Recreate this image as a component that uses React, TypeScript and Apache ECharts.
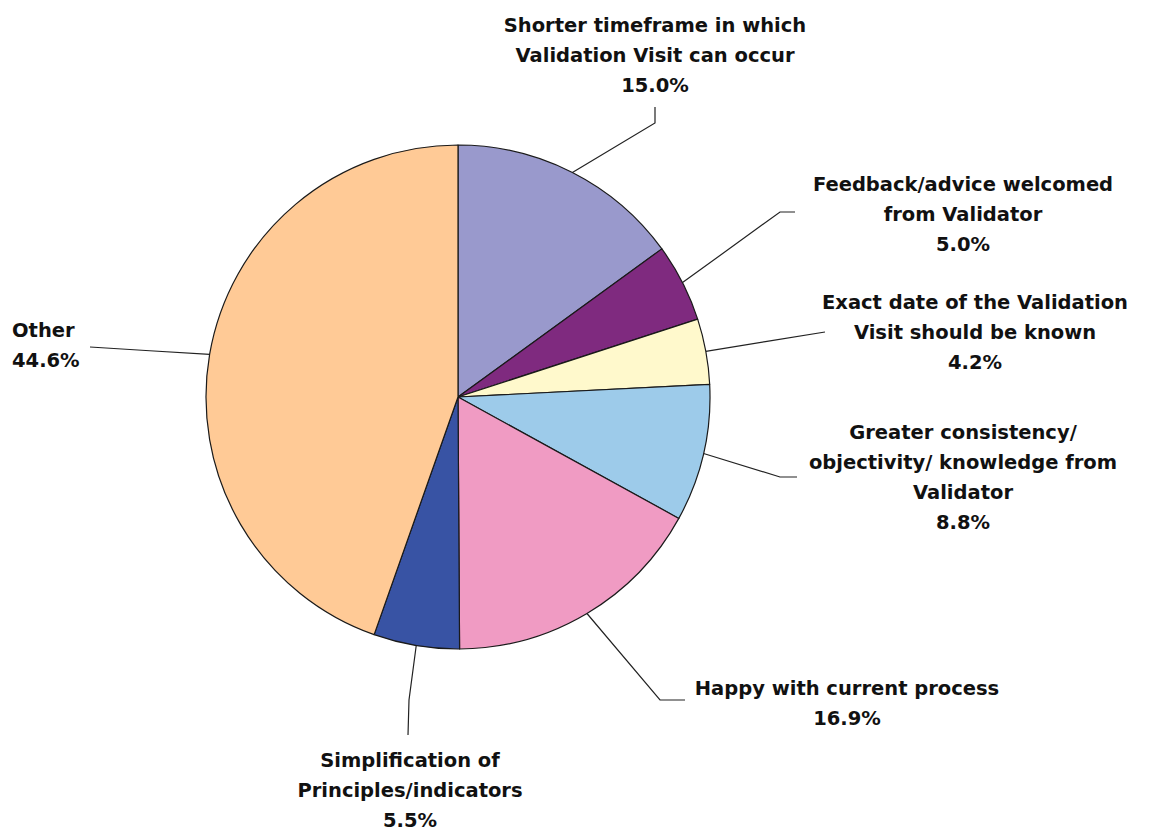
import React, { useEffect, useRef } from "react";
import * as echarts from "echarts";

const categories = [
  "Shorter timeframe in which\nValidation Visit can occur",
  "Feedback/advice welcomed\nfrom Validator",
  "Exact date of the Validation\nVisit should be known",
  "Greater consistency/\nobjectivity/ knowledge from\nValidator",
  "Happy with current process",
  "Simplification of\nPrinciples/indicators",
  "Other",
];
const values = [15.0, 5.0, 4.2, 8.8, 16.9, 5.5, 44.6];
const colors = ["#9999CC", "#7F2A7F", "#FFF9CC", "#9DCBEA", "#F09BC3", "#3853A4", "#FFCA96"];

// label placement (x, top y, align) and leader-line bend / end points
const labelPos: { x: number; y: number; align: string; bend: number[] | null; end: number[] }[] = [
  { x: 655, y: 10, align: "center", bend: [655, 123], end: [655, 107] },
  { x: 963, y: 169, align: "center", bend: [780, 212], end: [795, 212] },
  { x: 975, y: 287, align: "center", bend: null, end: [825, 332] },
  { x: 963, y: 417, align: "center", bend: [780, 477], end: [797, 477] },
  { x: 847, y: 673, align: "center", bend: [660, 700], end: [685, 700] },
  { x: 410, y: 745, align: "center", bend: [409, 700], end: [408, 735] },
  { x: 12, y: 315, align: "left", bend: null, end: [90, 347] },
];

export default function App() {
  const ref = useRef<HTMLDivElement>(null);
  useEffect(() => {
    if (!ref.current) return;
    const chart = echarts.init(ref.current, null, { renderer: "svg" });
    chart.setOption({
      animation: false,
      backgroundColor: "#ffffff",
      series: [
        {
          type: "pie",
          center: [458, 397],
          radius: 252,
          startAngle: 90,
          clockwise: true,
          avoidLabelOverlap: false,
          data: categories.map((c, i) => ({
            name: c,
            value: values[i],
            itemStyle: { color: colors[i] },
          })),
          itemStyle: { borderColor: "#1a1a1a", borderWidth: 1.2 },
          label: {
            show: true,
            position: "outside",
            formatter: (p: any) => `${p.name}\n${Number(p.value).toFixed(1)}%`,
            fontFamily: "DejaVu Sans",
            fontWeight: "bold",
            fontSize: 19.5,
            lineHeight: 30,
            color: "#111",
          },
          labelLine: {
            show: true,
            length: 20,
            length2: 20,
            lineStyle: { color: "#222", width: 1.2 },
          },
          labelLayout: (params: any) => {
            const i = params.dataIndex;
            const lp = labelPos[i];
            const pts = params.labelLinePoints;
            const start = pts && pts[0] ? pts[0] : lp.end;
            const bend = lp.bend
              ? lp.bend
              : [(start[0] + lp.end[0]) / 2, (start[1] + lp.end[1]) / 2];
            return {
              x: lp.x,
              y: lp.y,
              align: lp.align,
              verticalAlign: "top",
              labelLinePoints: [start, bend, lp.end],
            };
          },
        },
      ],
    });
    return () => chart.dispose();
  }, []);
  return (
    <div
      ref={ref}
      style={{ position: "absolute", left: 0, top: 0, width: 1168, height: 832 }}
    />
  );
}
